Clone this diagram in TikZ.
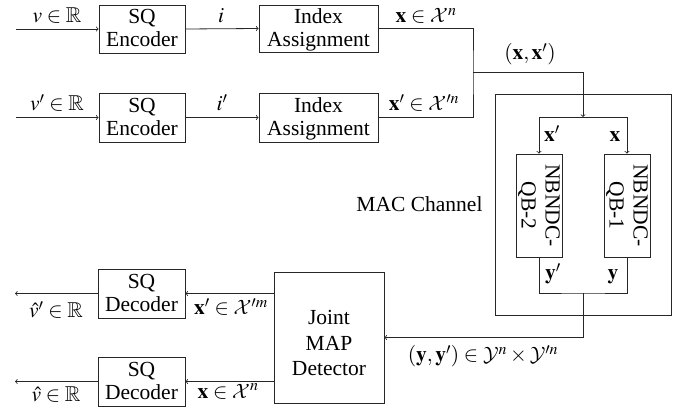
\documentclass[tikz,border=0pt]{standalone}
\usepackage{mathptmx}
\usepackage{amssymb}
\DeclareMathAlphabet{\mathcal}{OMS}{cmsy}{m}{n}
\usepackage{fontspec}
\setmainfont{Liberation Serif}
\newfontfamily\tfont{Liberation Serif}
\begin{document}
\begin{tikzpicture}[x=1pt,y=-1pt,
  every node/.style={font=\tfont\fontsize{21.5}{24}\selectfont},
  box/.style={draw=black!85, line width=0.8pt, inner sep=0pt},
  txt/.style={anchor=base, inner sep=0pt},
  wire/.style={draw=black!85, line width=0.8pt},
  lab/.style={anchor=base, inner sep=0pt}]
\useasboundingbox (0,0) rectangle (686,414);

% encoders and index assignment
\node[box, minimum width=86pt, minimum height=48pt] (enc1) at (142,29) {};
\node[txt] (enc1a) at (142,24) {SQ};
\node[txt] (enc1b) at (142,47) {Encoder};
\node[box, minimum width=119pt, minimum height=47pt] (ia1) at (318.5,28.5) {};
\node[txt] (ia1a) at (318.5,24) {Index};
\node[txt] (ia1b) at (318.5,47) {Assignment};
\node[box, minimum width=86pt, minimum height=49pt] (enc2) at (142,117.5) {};
\node[txt] (enc2a) at (142,112.5) {SQ};
\node[txt] (enc2b) at (142,135.5) {Encoder};
\node[box, minimum width=119pt, minimum height=49pt] (ia2) at (318.5,117.5) {};
\node[txt] (ia2a) at (318.5,112.5) {Index};
\node[txt] (ia2b) at (318.5,135.5) {Assignment};

\coordinate (in1) at (16,29);
\coordinate (in2) at (16,117.5);
\draw[wire,->] (in1) -- (enc1.west);
\draw[wire,->] (in2) -- (enc2.west);
\draw[wire,->] (enc1.east) -- (ia1.west);
\draw[wire,->] (enc2.east) -- (ia2.west);

\node[lab] (lv) at (57,23) {$v\in\mathbb{R}$};
\node[lab] (li) at (221,23) {$i$};
\node[lab] (lx) at (426,23) {$\mathbf{x}\in\mathcal{X}^n$};
\node[lab] (lv2) at (57,111) {$v'\in\mathbb{R}$};
\node[lab] (li2) at (222,111) {$i'$};
\node[lab] (lx2) at (424,111) {$\mathbf{x}'\in\mathcal{X}'^n$};

% merge
\coordinate (j) at (473,72);
\coordinate (s) at (583,117);
\draw[wire] (ia1.east) -| (j) |- (ia2.east);
\draw[wire,->] (j) -| (s);
\node[lab] (lxx) at (530,60) {$(\mathbf{x},\mathbf{x}')$};

% MAC channel
\node[box, minimum width=176pt, minimum height=221pt] (mac) at (583,204.5) {};
\node[lab] (lmac) at (419.5,212) {MAC Channel};
\node[box, minimum width=46pt, minimum height=103pt] (nb2) at (539,205.5) {};
\node[box, minimum width=46pt, minimum height=103pt] (nb1) at (627,205.5) {};
\node[align=center, inner sep=0pt, rotate=-90] (t2) at (nb2) {NBNDC-\\QB-2};
\node[align=center, inner sep=0pt, rotate=-90] (t1) at (nb1) {NBNDC-\\QB-1};
\draw[wire,->] (s) -| (nb2.north);
\draw[wire,->] (s) -| (nb1.north);
\node[lab] (lxa) at (552,142) {$\mathbf{x}'$};
\node[lab] (lxb) at (615,142) {$\mathbf{x}$};

\coordinate (t) at (583,293);
\draw[wire] (nb2.south) |- (t) -| (nb1.south);
\node[lab] (lya) at (553,280) {$\mathbf{y}'$};
\node[lab] (lyb) at (613,280) {$\mathbf{y}$};

% detector
\node[box, minimum width=110pt, minimum height=131pt] (jmap) at (329,337.5) {};
\node[txt] (jmapa) at (329,325) {Joint};
\node[txt] (jmapb) at (329,350) {MAP};
\node[txt] (jmapc) at (329,375) {Detector};
\draw[wire,->] (t) |- (jmap.east);
\node[lab] (lyy) at (483,362) {$(\mathbf{y},\mathbf{y}')\in\mathcal{Y}^n\times\mathcal{Y}'^n$};

% decoders
\node[box, minimum width=87pt, minimum height=49pt] (dec1) at (141.5,293.5) {};
\node[txt] (dec1a) at (141.5,288.5) {SQ};
\node[txt] (dec1b) at (141.5,311.5) {Decoder};
\node[box, minimum width=87pt, minimum height=49pt] (dec2) at (141.5,381.5) {};
\node[txt] (dec2a) at (141.5,376.5) {SQ};
\node[txt] (dec2b) at (141.5,399.5) {Decoder};
\coordinate (o1) at (15,293.5);
\coordinate (o2) at (15,381.5);
\draw[wire,->] (dec1.east -| jmap.west) -- (dec1.east);
\draw[wire,->] (dec2.east -| jmap.west) -- (dec2.east);
\draw[wire,->] (dec1.west) -- (o1);
\draw[wire,->] (dec2.west) -- (o2);
\node[lab] (lo1) at (56,318) {$\hat{v}'\in\mathbb{R}$};
\node[lab] (lo2) at (56,401) {$\hat{v}\in\mathbb{R}$};
\node[lab] (ld1) at (231,315) {$\mathbf{x}'\in\mathcal{X}'^m$};
\node[lab] (ld2) at (228,398) {$\mathbf{x}\in\mathcal{X}^n$};
\end{tikzpicture}
\end{document}
